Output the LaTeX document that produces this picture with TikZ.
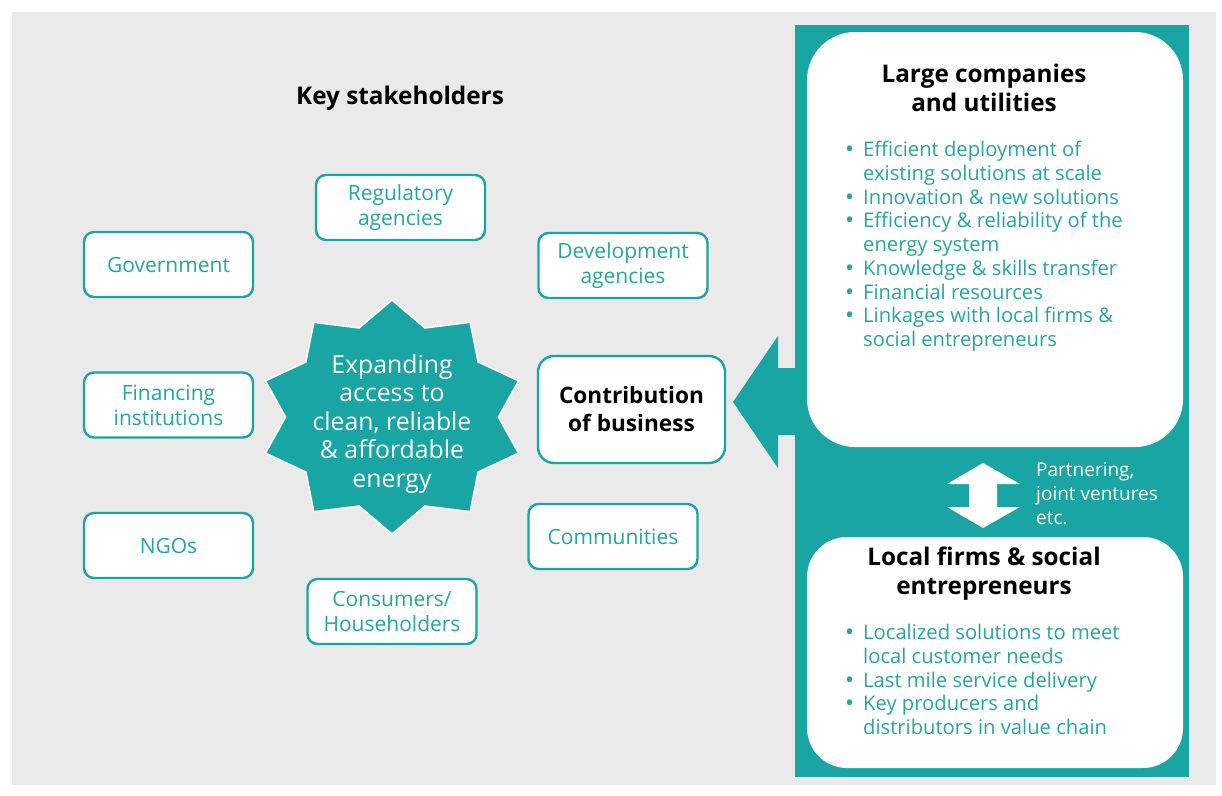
\documentclass[tikz,border=0pt]{standalone}
\usepackage{fontspec}
\setmainfont{Open Sans}
\usepackage{tikz}
\usetikzlibrary{arrows,positioning}
\definecolor{tealmain}{RGB}{24,165,163}
\definecolor{tealtext}{RGB}{36,168,158}
\definecolor{bggray}{RGB}{234,234,234}
\newcommand{\itm}{\makebox[18pt][l]{\raisebox{-1pt}{\fontsize{24}{24}\selectfont\textbullet}}}
\newcommand{\cnt}{\hspace*{18pt}}

\begin{document}
\begin{tikzpicture}[x=1pt,y=-1pt,node distance=140.5pt,
  stake node/.style={rectangle,rounded corners=10pt,draw=tealmain,line width=2.4pt,
    fill=white,minimum width=169pt,minimum height=65pt,text=tealtext,align=center,
    font=\fontsize{21}{25}\selectfont},
  key node/.style={stake node,minimum width=187pt,minimum height=107pt,text=black,
    font=\fontsize{22.6}{28}\selectfont\bfseries,rounded corners=16pt},
  head node/.style={align=center,text=black,font=\fontsize{24.3}{29}\selectfont\bfseries},
  list node/.style={align=left,text=tealtext,inner sep=0pt,anchor=north west,
    font=\fontsize{20.2}{23.75}\selectfont},
  goal node/.style={align=center,text=white,font=\fontsize{24.8}{28.5}\selectfont},
  panel/.style={fill=tealmain},
  card/.style={fill=white}]
  \useasboundingbox (0,0) rectangle (1222,795);
  \fill[bggray] (12,12) rectangle (1216,785);

  \fill[panel] (795,25) rectangle (1189,777);
  \fill[panel] (795,368) -- (778,368) -- (778,336) -- (733,402) -- (778,468)
    -- (778,435) -- (795,435) -- cycle;
  \fill[card,rounded corners=48pt] (807,32) rectangle (1183,447);
  \fill[card,rounded corners=40pt] (807,537) rectangle (1183,768);
  \fill[white] (983,463) -- (1020,484) -- (997,484) -- (997,507) -- (1020,507)
    -- (983,528) -- (947,507) -- (969,507) -- (969,484) -- (947,484) -- cycle;

  \filldraw[fill=tealmain,draw=white,line width=1.5pt]
    plot[samples at={0,...,19},variable=\k]
    ({392+133*(1-0.2*isodd(\k))*cos(90+18*\k)},{417+117*(1-0.2*isodd(\k))*sin(90+18*\k)})
    -- cycle;

  \node[head node] (keys) at (400,98) {Key stakeholders};
  \node[goal node] (goal) at (392,424) {Expanding\\access to\\clean, reliable\\\& affordable\\energy};

  \node[stake node] (gov) at (168.5,264.5) {Government};
  \node[stake node] (fin) [below of=gov] {Financing\\institutions};
  \node[stake node] (ngo) [below of=fin] {NGOs};
  \node[stake node] (reg) at (400.5,207.5) {Regulatory\\agencies};
  \node[stake node] (cons) at (392,611.5) {Consumers/\\Householders};
  \node[stake node] (dev) at (623,265.5) {Development\\agencies};
  \node[stake node] (comm) at (613,536.5) {Communities};
  \node[key node] (contrib) at (631.5,409.5) {Contribution\\of business};

  \node[head node] (large) at (984,87.5) {Large companies\\and utilities};
  \node[list node] (largelist) at (845,141) {\itm Efficient deployment of\\
    \cnt existing solutions at scale\\
    \itm Innovation \& new solutions\\
    \itm Efficiency \& reliability of the\\
    \cnt energy system\\
    \itm Knowledge \& skills transfer\\
    \itm Financial resources\\
    \itm Linkages with local firms \&\\
    \cnt social entrepreneurs};

  \node[list node,text=white,anchor=west,font=\fontsize{19}{24}\selectfont] (partner) at (1036,494)
    {Partnering,\\joint ventures\\etc.};

  \node[head node] (local) at (984,574) {Local firms \& social\\entrepreneurs};
  \node[list node] (locallist) at (845,624) {\itm Localized solutions to meet\\
    \cnt local customer needs\\
    \itm Last mile service delivery\\
    \itm Key producers and\\
    \cnt distributors in value chain};
\end{tikzpicture}
\end{document}
